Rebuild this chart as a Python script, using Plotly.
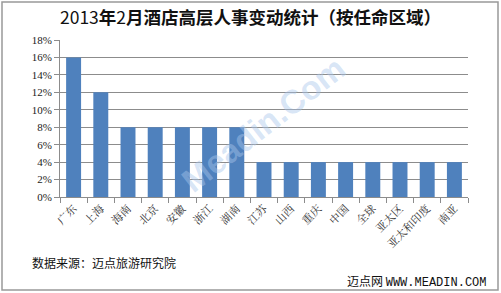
import plotly.graph_objects as go

categories = ["广东", "上海", "海南", "北京", "安徽", "浙江", "湖南", "江苏", "山西",
              "重庆", "中国", "全球", "亚太区", "亚太和印度", "南亚"]
values = [16, 12, 8, 8, 8, 8, 8, 4, 4, 4, 4, 4, 4, 4, 4]
y_ticks = [0, 2, 4, 6, 8, 10, 12, 14, 16, 18]
y_labels = [f"{v}%" for v in y_ticks]

W, H = 501, 293
L, R, T, B = 60, 33, 40, 96
pw, ph = W - L - R, H - T - B

def px(x):
    return (x - L) / pw

def py(y):
    return (H - B - y) / ph

fig = go.Figure(go.Bar(x=categories, y=values, marker=dict(color="#4F81BD", line=dict(width=0)),
                       width=0.55))

fig.update_layout(
    width=W, height=H,
    margin=dict(l=L, r=R, t=T, b=B),
    paper_bgcolor="white", plot_bgcolor="white",
    showlegend=False,
    font=dict(family="Noto Sans CJK SC", color="#222"),
    title=dict(text="2013<b>年</b>2<b>月酒店高层人事变动统计（按任命区域）</b>",
               x=0.5, xanchor="center", y=1 - 18 / H, yanchor="middle",
               font=dict(size=17.5, color="#111")),
    bargap=0.45,
)
fig.update_yaxes(range=[0, 18], tickvals=y_ticks, ticktext=y_labels,
                 showgrid=True, gridcolor="#8c8c8c", gridwidth=1,
                 showline=True, linecolor="#8c8c8c", ticks="outside", ticklen=5,
                 tickcolor="#8c8c8c", tickfont=dict(size=11, family="Liberation Serif", color="#222"),
                 zeroline=False, fixedrange=True)
fig.update_xaxes(tickangle=-45, tickson="boundaries", ticks="outside", ticklen=5,
                 tickcolor="#8c8c8c", showline=True, linecolor="#8c8c8c",
                 tickfont=dict(size=11, family="Noto Serif CJK SC, Noto Sans CJK SC", color="#333"),
                 fixedrange=True)

shapes = [dict(type="rect", xref="paper", yref="paper",
               x0=px(2), x1=px(498), y0=py(290), y1=py(2),
               line=dict(color="#999", width=1.5), fillcolor="rgba(0,0,0,0)", layer="below")]
fig.update_layout(shapes=shapes)

fig.add_annotation(text="<b>Meadin.Com</b>", xref="paper", yref="paper",
                   x=px(263), y=py(124), showarrow=False, textangle=-38,
                   font=dict(size=33, family="Liberation Sans", color="rgba(170,198,235,0.45)"))
fig.add_annotation(text="数据来源：迈点旅游研究院", xref="paper", yref="paper",
                   x=px(30), y=py(262), xanchor="left", yanchor="middle", showarrow=False,
                   font=dict(size=12, color="#111"))
fig.add_annotation(text="迈点网&nbsp;<span style='font-family:Liberation Mono'>WWW.MEADIN.COM</span>",
                   xref="paper", yref="paper",
                   x=px(489), y=py(281), xanchor="right", yanchor="middle", showarrow=False,
                   font=dict(size=12, color="#111", family="Noto Sans CJK SC"))

fig.write_html("out.html")
